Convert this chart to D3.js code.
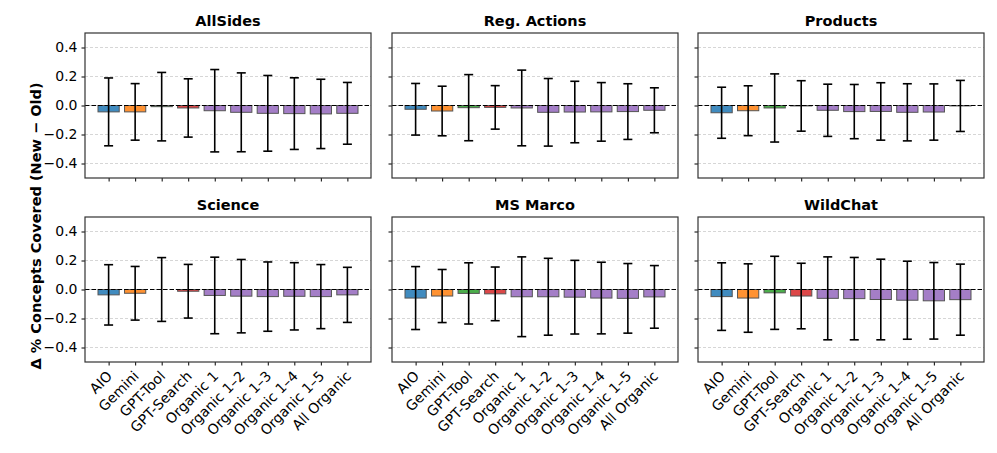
<!DOCTYPE html>
<html>
<head>
<meta charset="utf-8">
<script src="https://d3js.org/d3.v7.min.js"></script>
<style>
  body { margin: 0; background: #fff; }
  svg { font-family: 'DejaVu Sans', sans-serif; }
  .tick text { font-size: 14px; font-family: 'DejaVu Sans', sans-serif; fill: #000; }
</style>
</head>
<body>
<div id="chart"></div>
<script>
// Categories and panel names
const categories = ['AIO', 'Gemini', 'GPT-Tool', 'GPT-Search', 'Organic 1', 'Organic 1–2', 'Organic 1–3', 'Organic 1–4', 'Organic 1–5', 'All Organic']
const datasets = ['AllSides', 'Reg. Actions', 'Products', 'Science', 'MS Marco', 'WildChat']

// Mean delta per dataset (rows follow datasets, columns follow categories)
const means = [
  [-0.044, -0.044, -0.008, -0.017, -0.036, -0.047, -0.054, -0.056, -0.058, -0.054],
  [-0.026, -0.038, -0.015, -0.013, -0.017, -0.047, -0.045, -0.044, -0.042, -0.033],
  [-0.050, -0.036, -0.017, -0.003, -0.033, -0.042, -0.041, -0.047, -0.045, -0.003],
  [-0.037, -0.026, 0.000, -0.012, -0.041, -0.046, -0.049, -0.047, -0.049, -0.037],
  [-0.059, -0.045, -0.027, -0.030, -0.050, -0.050, -0.053, -0.059, -0.061, -0.051],
  [-0.049, -0.059, -0.023, -0.045, -0.061, -0.063, -0.069, -0.074, -0.078, -0.070]
]

// Standard deviation (error bar half length)
const errors = [
  [0.234, 0.195, 0.236, 0.201, 0.284, 0.272, 0.261, 0.247, 0.239, 0.213],
  [0.178, 0.171, 0.228, 0.150, 0.261, 0.233, 0.212, 0.202, 0.192, 0.155],
  [0.176, 0.172, 0.235, 0.174, 0.180, 0.187, 0.198, 0.197, 0.194, 0.176],
  [0.208, 0.185, 0.220, 0.185, 0.264, 0.253, 0.239, 0.232, 0.221, 0.190],
  [0.217, 0.183, 0.211, 0.185, 0.275, 0.265, 0.254, 0.247, 0.240, 0.216],
  [0.233, 0.236, 0.252, 0.226, 0.286, 0.284, 0.278, 0.269, 0.264, 0.245]
]

const yTicks = [-0.4, -0.2, 0.0, 0.2, 0.4]

function barColor (name) {
  if (name === 'AIO') return '#1f77b4'
  if (name === 'Gemini') return '#ff7f0e'
  if (name === 'GPT-Tool') return '#2ca02c'
  if (name === 'GPT-Search') return '#d62728'
  return '#9467bd'
}

const width = 997
const height = 453

// panel layout
const panelW = 286
const panelH = 145
const lefts = [85, 392, 698]
const tops = [33, 217]

const svg = d3.select('#chart')
  .append('svg')
  .attr('width', width)
  .attr('height', height)

// y axis label
svg.append('text')
  .attr('transform', 'translate(41,226) rotate(-90)')
  .attr('text-anchor', 'middle')
  .attr('font-size', 14.5)
  .attr('font-weight', 'bold')
  .text('Δ % Concepts Covered (New − Old)')

datasets.forEach((name, di) => {
  const row = Math.floor(di / 3)
  const col = di % 3
  const x0 = lefts[col]
  const y0 = tops[row]

  const g = svg.append('g').attr('transform', `translate(${x0},${y0})`)

  // categories on 0..9, bar width 0.8, 5% margins like matplotlib
  const x = d3.scaleLinear().domain([-0.89, 9.89]).range([0, panelW])
  const y = d3.scaleLinear().domain([-0.5, 0.5]).range([panelH, 0])
  const bw = x(0.8) - x(0)

  // gridlines
  g.append('g')
    .selectAll('line')
    .data(yTicks)
    .join('line')
    .attr('x1', 0)
    .attr('x2', panelW)
    .attr('y1', d => y(d))
    .attr('y2', d => y(d))
    .style('stroke', '#cccccc')
    .style('stroke-width', 0.8)
    .style('stroke-dasharray', '3,2')

  // bars
  g.append('g')
    .selectAll('rect')
    .data(categories)
    .join('rect')
    .attr('x', (d, i) => x(i) - bw / 2)
    .attr('width', bw)
    .attr('y', (d, i) => Math.min(y(means[di][i]), y(0)))
    .attr('height', (d, i) => Math.abs(y(means[di][i]) - y(0)))
    .attr('fill', d => barColor(d))
    .attr('fill-opacity', 0.85)
    .attr('stroke', '#555')
    .attr('stroke-width', 1)

  // zero line
  g.append('line')
    .attr('x1', 0)
    .attr('x2', panelW)
    .attr('y1', y(0))
    .attr('y2', y(0))
    .style('stroke', '#000')
    .style('stroke-width', 1.2)
    .style('stroke-dasharray', '4.5,2')

  // error bars
  const eb = g.append('g')
    .selectAll('g')
    .data(categories)
    .join('g')
  eb.append('line')
    .attr('x1', (d, i) => x(i))
    .attr('x2', (d, i) => x(i))
    .attr('y1', (d, i) => y(means[di][i] + errors[di][i]))
    .attr('y2', (d, i) => y(means[di][i] - errors[di][i]))
    .style('stroke', '#000')
    .style('stroke-width', 1.6)
  ;[1, -1].forEach(s => {
    eb.append('line')
      .attr('x1', (d, i) => x(i) - 4.5)
      .attr('x2', (d, i) => x(i) + 4.5)
      .attr('y1', (d, i) => y(means[di][i] + s * errors[di][i]))
      .attr('y2', (d, i) => y(means[di][i] + s * errors[di][i]))
      .style('stroke', '#000')
      .style('stroke-width', 1.6)
  })

  // y axis
  const yAxis = g.append('g')
    .call(d3.axisLeft(y).tickValues(yTicks).tickSize(3.5).tickPadding(4)
      .tickFormat(col === 0 ? d => d3.format('.1f')(d).replace('-', '−') : ''))
  yAxis.select('.domain').remove()

  // x axis
  const xAxis = g.append('g')
    .attr('transform', `translate(0,${panelH})`)
    .call(d3.axisBottom(x).tickValues(d3.range(categories.length)).tickSize(3.5)
      .tickFormat(row === 1 ? i => categories[i] : ''))
  xAxis.select('.domain').remove()
  if (row === 1) {
    xAxis.selectAll('text')
      .attr('text-anchor', 'end')
      .attr('dy', 0)
      .attr('y', 0)
      .attr('transform', 'translate(4,15) rotate(-45)')
  }

  // frame
  g.append('rect')
    .attr('width', panelW)
    .attr('height', panelH)
    .attr('fill', 'none')
    .attr('stroke', '#333')
    .attr('stroke-width', 1.2)

  // title
  g.append('text')
    .attr('x', panelW / 2)
    .attr('y', -7)
    .attr('text-anchor', 'middle')
    .attr('font-size', 14.5)
    .attr('font-weight', 'bold')
    .text(name)
})
</script>
</body>
</html>
